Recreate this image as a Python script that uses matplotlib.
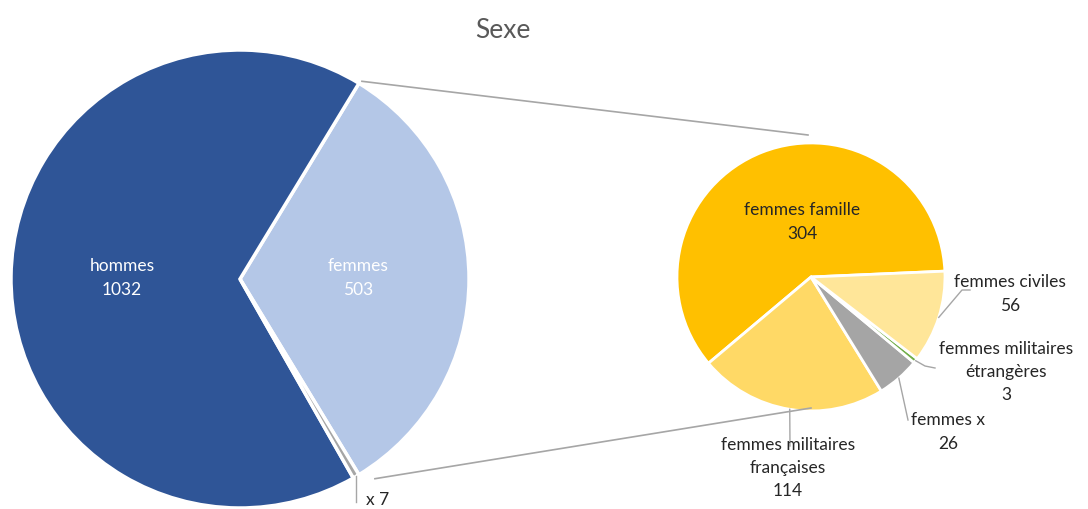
import numpy as np
import matplotlib.pyplot as plt

plt.rcParams['font.family'] = ['Lato', 'DejaVu Sans']

W, H = 1088, 509

# main pie
main_labels = ['femmes', 'hommes', 'x']
main_values = [503, 1032, 7]
main_colors = ['#B4C7E7', '#2F5597', '#A5A5A5']

# detail of "femmes"
sub_labels = ['femmes famille', 'femmes militaires\nfrançaises', 'femmes x',
              'femmes militaires\nétrangères', 'femmes civiles']
sub_values = [304, 114, 26, 3, 56]
sub_colors = ['#FFC000', '#FFD966', '#A5A5A5', '#70AD47', '#FFE699']

MAIN_C, MAIN_R = (240, 230), 229
SUB_C, SUB_R = (811, 232), 134
LINE = '#A6A6A6'
TXT = '#262626'

fig = plt.figure(figsize=(W / 100, H / 100), dpi=100)
ax = fig.add_axes([0, 0, 1, 1])

main_start = -main_values[0] / sum(main_values) * 180
main_wedges, _ = ax.pie(main_values, colors=main_colors, center=MAIN_C, radius=MAIN_R,
                        startangle=main_start, counterclock=True,
                        explode=[0.03, 0, 0],
                        wedgeprops=dict(edgecolor='white', linewidth=2.5))

sub_wedges, _ = ax.pie(sub_values, colors=sub_colors, center=SUB_C, radius=SUB_R,
                       startangle=2.5, counterclock=True,
                       explode=[0.05, 0, 0, 0, 0],
                       wedgeprops=dict(edgecolor='white', linewidth=2))

ax.set_xlim(0, W)
ax.set_ylim(0, H)
ax.set_aspect('equal')
ax.axis('off')


def arc_point(wedge, angle):
    cx, cy = wedge.center
    a = np.deg2rad(angle)
    return cx + wedge.r * np.cos(a), cy + wedge.r * np.sin(a)


# connector lines between the two pies
fem = main_wedges[0]
top = arc_point(fem, fem.theta2)
bot = arc_point(fem, fem.theta1)
ax.plot([top[0] + 3, SUB_C[0] - 3], [top[1] + 2, SUB_C[1] + SUB_R + 8], color=LINE, lw=1.2)
ax.plot([bot[0] + 16, SUB_C[0]], [bot[1] - 4, SUB_C[1] - SUB_R + 3], color=LINE, lw=1.2)

# inside labels
fs = 12.5
ls = 1.55
ax.text(122, H - 278, f'{main_labels[1]}\n{main_values[1]}', color='white', ha='center', va='center',
        fontsize=fs, linespacing=ls)
ax.text(358, H - 278, f'{main_labels[0]}\n{main_values[0]}', color='white', ha='center', va='center',
        fontsize=fs, linespacing=ls)
ax.text(802, H - 222, f'{sub_labels[0]}\n{sub_values[0]}', color=TXT, ha='center', va='center',
        fontsize=fs, linespacing=ls)

# outside labels with leader lines
x_w = main_wedges[2]
p = arc_point(x_w, (x_w.theta1 + x_w.theta2) / 2)
ax.plot([p[0], p[0]], [p[1], H - 502], color=LINE, lw=1)
ax.text(366, H - 500, f'{main_labels[2]} {main_values[2]}', color=TXT, ha='left', va='center', fontsize=fs)

leaders = {
    1: [(790, H - 446)],
    2: [(908, H - 420)],
    3: [(925, H - 366), (935, H - 368)],
    4: [(962, H - 290), (970, H - 290)],
}
text_pos = {
    1: (788, H - 468, 'center'),
    2: (948, H - 432, 'center'),
    3: (1006, H - 372, 'center'),
    4: (1010, H - 294, 'center'),
}
for i, pts in leaders.items():
    w = sub_wedges[i]
    p = arc_point(w, (w.theta1 + w.theta2) / 2)
    xs = [p[0]] + [q[0] for q in pts]
    ys = [p[1]] + [q[1] for q in pts]
    ax.plot(xs, ys, color=LINE, lw=1)
    tx, ty, ha = text_pos[i]
    ax.text(tx, ty, f'{sub_labels[i]}\n{sub_values[i]}', color=TXT, ha=ha, va='center',
            fontsize=fs, linespacing=ls)

ax.text(W / 2 - 41, H - 30, 'Sexe', color='#595959', ha='center', va='center', fontsize=19)

fig.savefig('out.png', dpi=100)
